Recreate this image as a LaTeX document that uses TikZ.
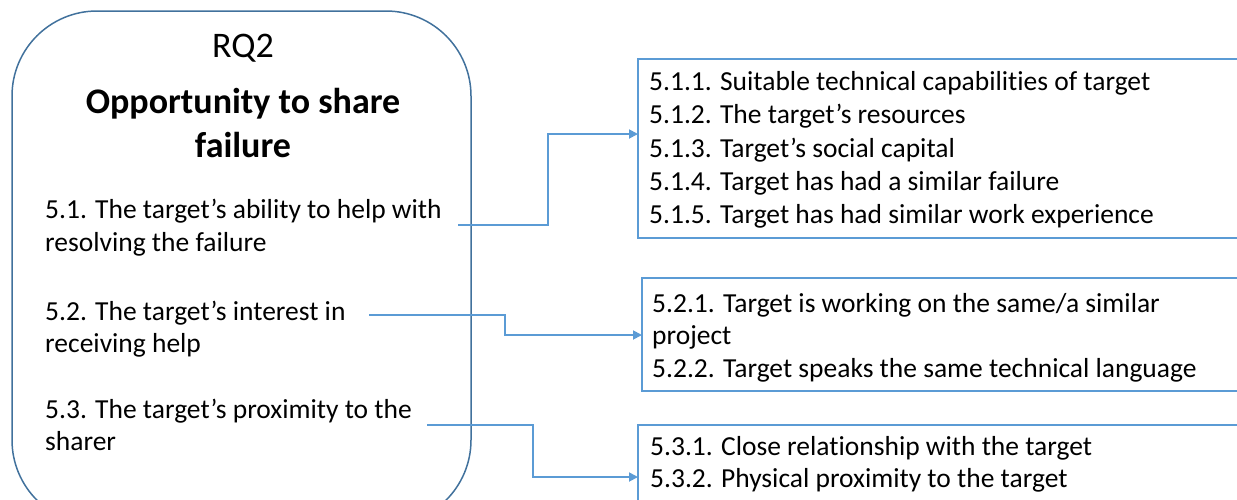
\documentclass[tikz,border=0pt]{standalone}
\usepackage{fontspec}
\setmainfont{Carlito}[Ligatures=NoCommon]
\usetikzlibrary{arrows.meta}
\definecolor{boxblue}{HTML}{41719C}
\definecolor{linkblue}{HTML}{5B9BD5}
\begin{document}
\begin{tikzpicture}[x=1pt,y=-1pt,
  txt/.style={anchor=base west, inner sep=0pt, font=\fontsize{27.5}{33}\selectfont},
  ttl/.style={anchor=base, inner sep=0pt, font=\fontsize{36}{40}\selectfont},
  ttlb/.style={anchor=base, inner sep=0pt, font=\fontsize{36}{40}\selectfont\bfseries},
  mainbox/.style={draw=boxblue, line width=1.5pt, rounded corners=85pt},
  subbox/.style={draw=linkblue, line width=1.6pt},
  conn/.style={draw=linkblue, line width=1.8pt, -{Triangle[length=9pt,width=9pt]}}]
\useasboundingbox (0,0) rectangle (1237,499);
\clip (0,0) rectangle (1237,499);
% main rounded box
\draw[mainbox] (12,11) rectangle (471,525);
\node[ttl] (rq) at (243,57) {RQ2};
\node[ttlb] (t1) at (243,113) {Opportunity to share};
\node[ttlb] (t2) at (243,157) {failure};
\node[txt] (a1) at (45,218) {5.1. The target’s ability to help with};
\node[txt] (a2) at (45,251) {resolving the failure};
\node[txt] (b1) at (45,320) {5.2. The target’s interest in};
\node[txt] (b2) at (45,352) {receiving help};
\node[txt] (c1) at (45,418) {5.3. The target’s proximity to the};
\node[txt] (c2) at (45,450) {sharer};
% sub boxes (open beyond the right edge)
\draw[subbox] (638,59) rectangle (1300,238);
\draw[subbox] (642,278) rectangle (1300,391);
\draw[subbox] (638,425) rectangle (1300,560);
\node[txt] (r11) at (649,90) {5.1.1. Suitable technical capabilities of target};
\node[txt] (r12) at (649,123) {5.1.2. The target’s resources};
\node[txt] (r13) at (649,157) {5.1.3. Target’s social capital};
\node[txt] (r14) at (649,190) {5.1.4. Target has had a similar failure};
\node[txt] (r15) at (649,223) {5.1.5. Target has had similar work experience};
\node[txt] (r21) at (652,312) {5.2.1. Target is working on the same/a similar};
\node[txt] (r22) at (652,344) {project};
\node[txt] (r23) at (652,377) {5.2.2. Target speaks the same technical language};
\node[txt] (r31) at (650,455) {5.3.1. Close relationship with the target};
\node[txt] (r32) at (650,487) {5.3.2. Physical proximity to the target};
% connectors
\coordinate (s1) at (458,225);
\coordinate (e1) at (638,134);
\coordinate (s2) at (369,315);
\coordinate (e2) at (642,335);
\coordinate (s3) at (427,425);
\coordinate (e3) at (638,477);
\draw[conn] (s1) -- ++(90,0) |- (e1);
\draw[conn] (s2) -- ++(136,0) |- (e2);
\draw[conn] (s3) -- ++(106,0) |- (e3);
\end{tikzpicture}
\end{document}
